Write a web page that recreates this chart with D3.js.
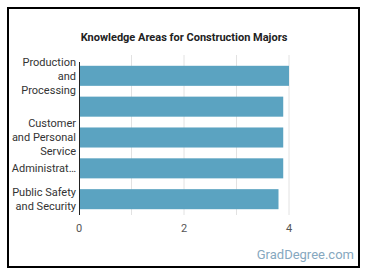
<!DOCTYPE html>
<html>
<head>
<meta charset="utf-8">
<script src="https://cdn.jsdelivr.net/npm/d3@7"></script>
<style>
  body { margin: 0; background: #fff; font-family: Roboto, "Noto Sans", sans-serif; }
</style>
</head>
<body>
<svg id="chart" width="370" height="278"></svg>
<script>
// chart data
const categories = [
  ["Production", "and", "Processing"],
  [""],
  ["Customer", "and Personal", "Service"],
  ["Administrat\u2026"],
  ["Public Safety", "and Security"]
];
const values = [4.0, 3.89, 3.89, 3.89, 3.8];
const tickValues = [0, 2, 4];
const gridValues = [1, 2, 3, 4];

const svg = d3.select("#chart");

// outer frame
svg.append("rect")
    .attr("x", 8).attr("y", 8)
    .attr("width", 351).attr("height", 259)
    .attr("fill", "none")
    .attr("stroke", "#000")
    .attr("stroke-width", 2);

svg.append("text")
    .attr("x", 184).attr("y", 41)
    .attr("text-anchor", "middle")
    .attr("font-size", 11)
    .attr("font-weight", "bold")
    .attr("fill", "#222")
    .text("Knowledge Areas for Construction Majors");

let x = d3.scaleLinear().domain([0, 4]).range([79, 289]);
let y = d3.scaleBand()
    .domain(d3.range(values.length))
    .range([55, 220])
    .paddingInner(0.35)
    .paddingOuter(0.35);

// grid lines
svg.append("g").selectAll("line")
    .data(gridValues)
    .enter()
    .append("line")
    .attr("x1", d => x(d)).attr("x2", d => x(d))
    .attr("y1", 55).attr("y2", 215)
    .attr("stroke", "#e2e2e2")
    .attr("stroke-width", 1);

// bars
svg.append("g").selectAll("rect")
    .data(values)
    .enter()
    .append("rect")
    .attr("x", x(0))
    .attr("y", (d, i) => y(i))
    .attr("width", d => x(d) - x(0))
    .attr("height", y.bandwidth())
    .attr("fill", "#5ba3c1");

// y axis line
svg.append("line")
    .attr("x1", x(0) + 0.5).attr("x2", x(0) + 0.5)
    .attr("y1", 62).attr("y2", 215)
    .attr("stroke", "#222")
    .attr("stroke-width", 1);

// category labels
let labels = svg.append("g").selectAll("text")
    .data(categories)
    .enter()
    .append("text")
    .attr("text-anchor", "end")
    .attr("font-size", 11)
    .attr("fill", "#333");

labels.each(function (lines, i) {
    let cy = y(i) + y.bandwidth() / 2;
    let lh = 14;
    let top = cy - (lines.length - 1) * lh / 2;
    d3.select(this).selectAll("tspan")
        .data(lines)
        .enter()
        .append("tspan")
        .attr("x", 76)
        .attr("y", (d, j) => top + j * lh)
        .attr("dy", "0.35em")
        .text(d => d);
});

// x tick labels
svg.append("g").selectAll("text")
    .data(tickValues)
    .enter()
    .append("text")
    .attr("x", d => x(d))
    .attr("y", 228)
    .attr("dy", "0.35em")
    .attr("text-anchor", "middle")
    .attr("font-size", 11)
    .attr("fill", "#555")
    .text(d => d);

svg.append("text")
    .attr("x", 354).attr("y", 259)
    .attr("text-anchor", "end")
    .attr("font-size", 13)
    .attr("fill", "#86a8c0")
    .text("GradDegree.com");
</script>
</body>
</html>
